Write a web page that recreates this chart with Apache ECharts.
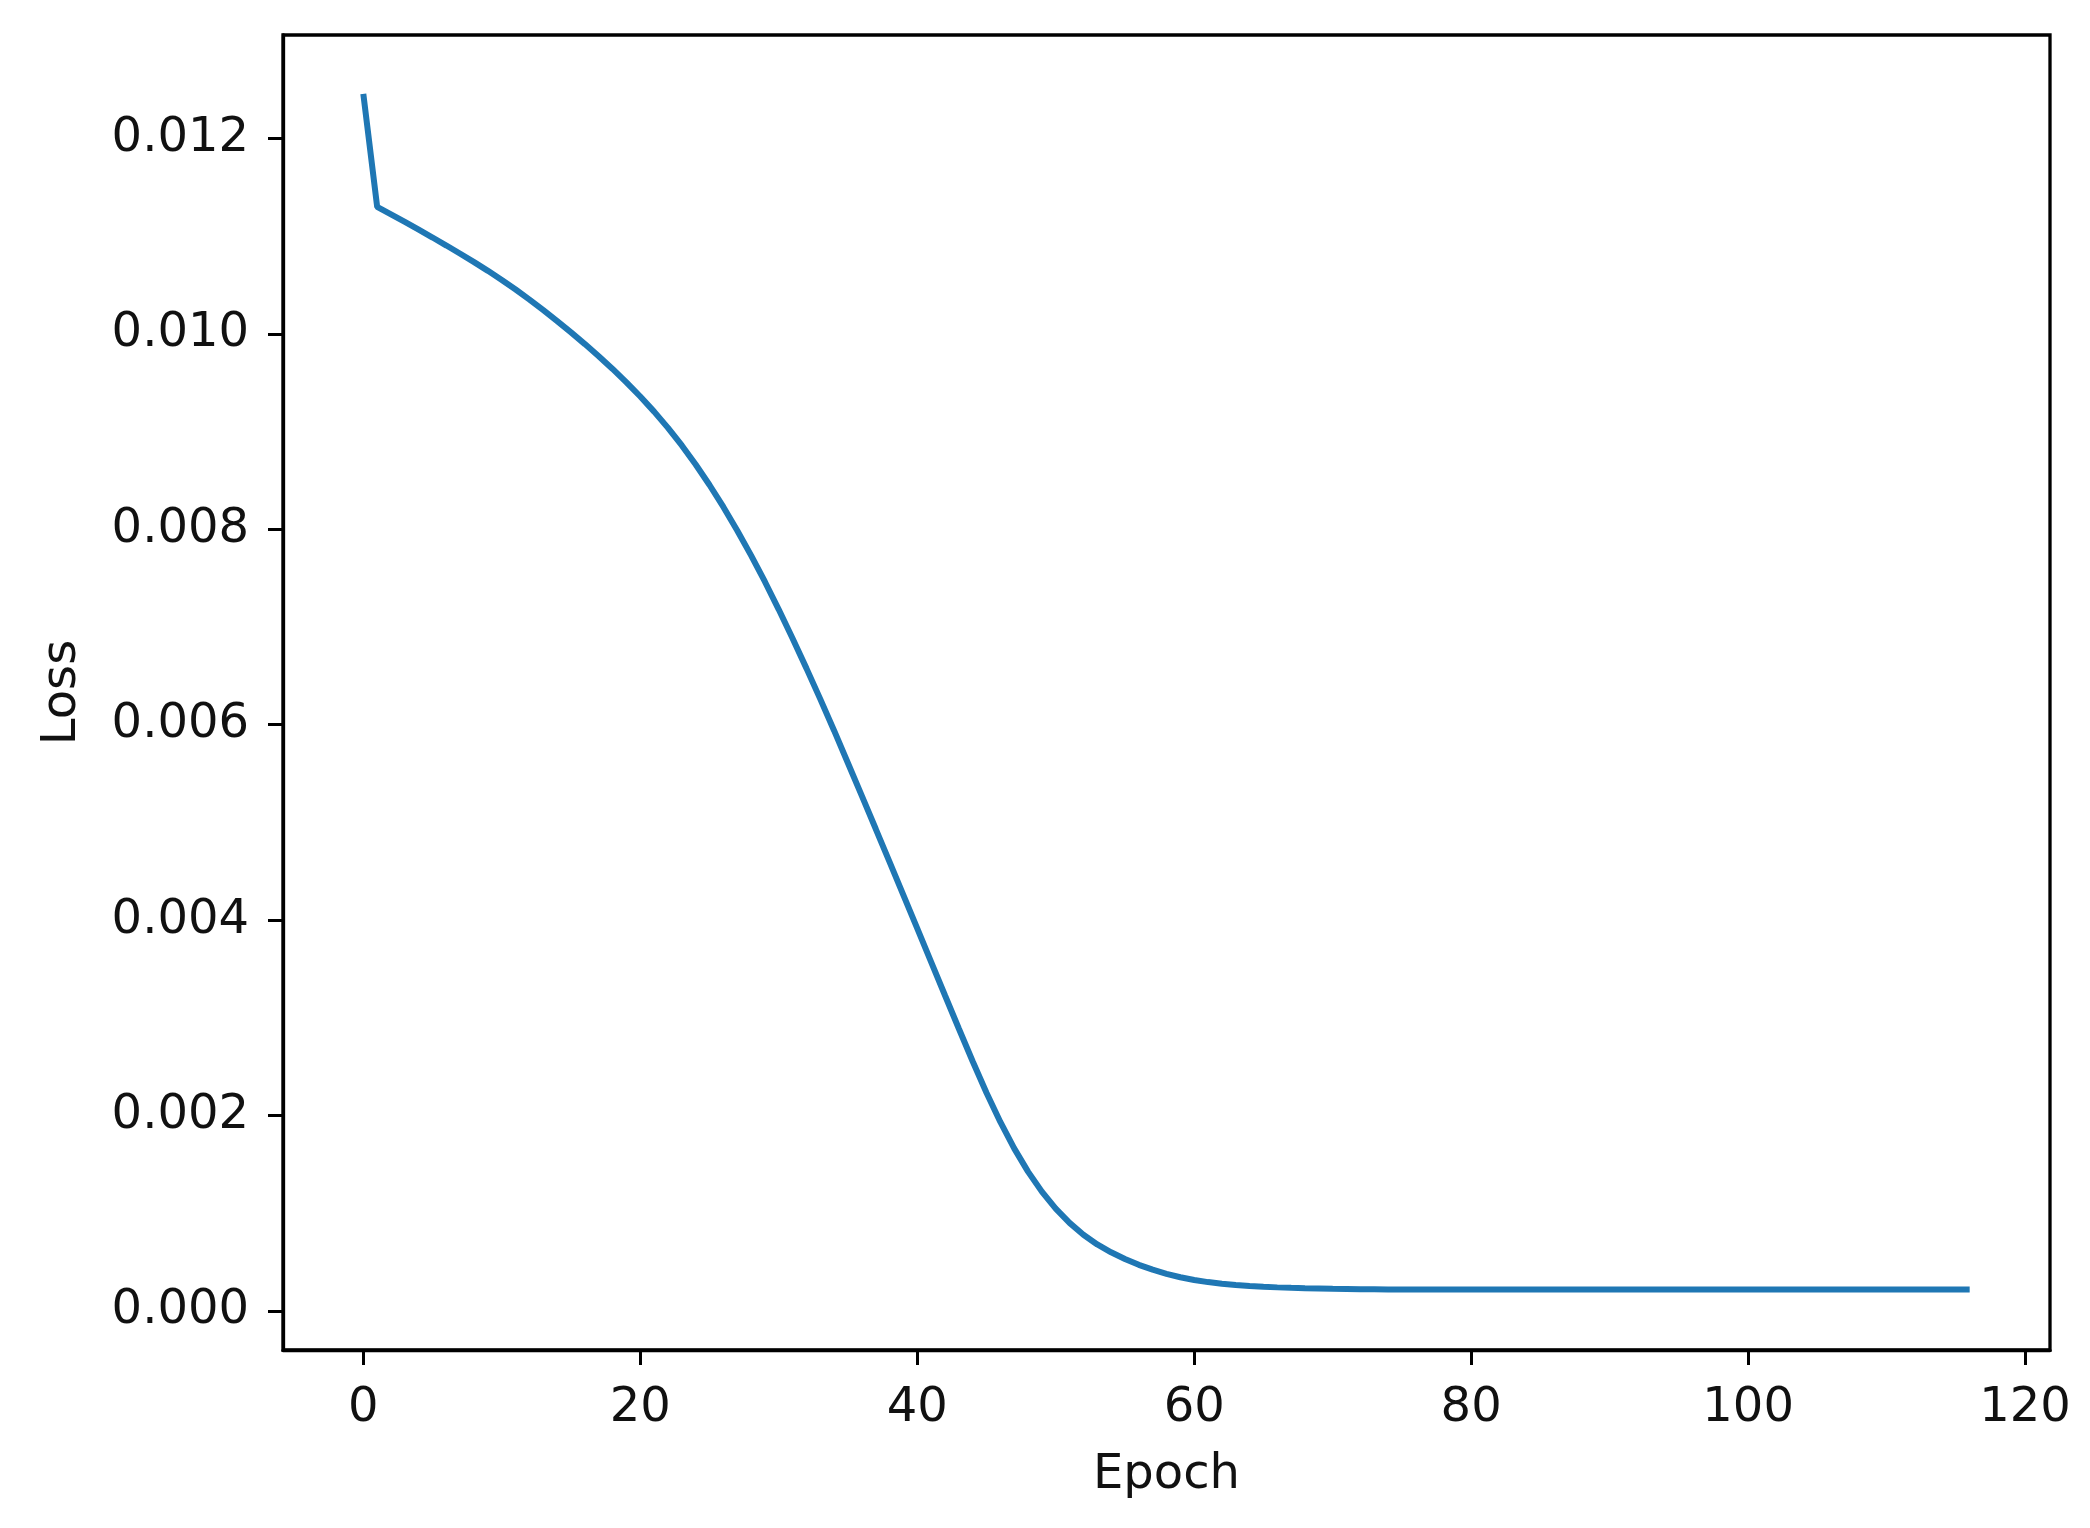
<!DOCTYPE html>
<html>
<head>
<meta charset="utf-8">
<script src="https://cdn.jsdelivr.net/npm/echarts@6/dist/echarts.min.js"></script>
<style>
html,body{margin:0;padding:0;background:#fff;}
#chart{width:2090px;height:1528px;}
</style>
</head>
<body>
<div id="chart"></div>
<script>
// Epoch numbers (0..116)
const epochs = [];
for (let i = 0; i <= 116; i++) epochs.push(i);

// Loss values, one per epoch
const lossValues = [
  0.012457, 0.011300, 0.011224, 0.011146, 0.011067, 0.010987, 0.010905, 0.010821, 0.010735, 0.010646,
  0.010553, 0.010455, 0.010352, 0.010244, 0.010132, 0.010016, 0.009896, 0.009772, 0.009642, 0.009505,
  0.009360, 0.009205, 0.009039, 0.008859, 0.008664, 0.008454, 0.008229, 0.007989, 0.007734, 0.007464,
  0.007179, 0.006883, 0.006577, 0.006262, 0.005939, 0.005606, 0.005272, 0.004935, 0.004596, 0.004256,
  0.003915, 0.003573, 0.003231, 0.002891, 0.002556, 0.002234, 0.001934, 0.001664, 0.001426, 0.001221,
  0.001047, 0.000901, 0.000780, 0.000680, 0.000600, 0.000532, 0.000472, 0.000422, 0.000380, 0.000345,
  0.000317, 0.000295, 0.000278, 0.000265, 0.000255, 0.000247, 0.000241, 0.000236, 0.000232, 0.000229,
  0.000226, 0.000224, 0.000222, 0.000221, 0.000220, 0.000220, 0.000219, 0.000219, 0.000219, 0.000218,
  0.000218, 0.000218, 0.000218, 0.000218, 0.000218, 0.000218, 0.000218, 0.000218, 0.000218, 0.000218,
  0.000218, 0.000218, 0.000218, 0.000218, 0.000218, 0.000218, 0.000218, 0.000218, 0.000218, 0.000218,
  0.000218, 0.000218, 0.000218, 0.000218, 0.000218, 0.000218, 0.000218, 0.000218, 0.000218, 0.000218,
  0.000218, 0.000218, 0.000218, 0.000218, 0.000218, 0.000218, 0.000218
];

// Tick values
const xTicks = [0, 20, 40, 60, 80, 100, 120];
const yTicks = [0, 0.002, 0.004, 0.006, 0.008, 0.010, 0.012];

const xName = 'Epoch';
const yName = 'Loss';

const seriesData = epochs.map((e, i) => [e, lossValues[i]]);

const FONT = '"DejaVu Sans", "Liberation Sans", sans-serif';
const TXT = '#111111';

const chart = echarts.init(document.getElementById('chart'), null, {renderer: 'canvas'});
chart.setOption({
  animation: false,
  backgroundColor: '#ffffff',
  grid: {
    left: 283, right: 40, top: 35, bottom: 178,
    show: true, borderColor: '#000', borderWidth: 3.3, backgroundColor: 'transparent'
  },
  xAxis: {
    type: 'value',
    min: -5.8, max: 121.8,
    name: xName,
    nameLocation: 'middle',
    nameGap: 102,
    nameTextStyle: {fontFamily: FONT, fontSize: 48, color: TXT},
    axisLine: {show: true, onZero: false, lineStyle: {color: '#000', width: 3.3}},
    axisTick: {show: true, inside: false, length: 15, lineStyle: {color: '#000', width: 3}, customValues: xTicks},
    axisLabel: {show: true, margin: 35, fontFamily: FONT, fontSize: 48, color: TXT, customValues: xTicks,
      formatter: v => String(v)},
    splitLine: {show: false}
  },
  yAxis: {
    type: 'value',
    min: -0.0004, max: 0.01306,
    name: yName,
    nameLocation: 'middle',
    nameGap: 196,
    nameTextStyle: {fontFamily: FONT, fontSize: 48, color: TXT},
    axisLine: {show: true, onZero: false, lineStyle: {color: '#000', width: 3.3}},
    axisTick: {show: true, inside: false, length: 15, lineStyle: {color: '#000', width: 3}, customValues: yTicks},
    axisLabel: {show: true, margin: 34, fontFamily: FONT, fontSize: 48, color: TXT, customValues: yTicks,
      formatter: v => v.toFixed(3)},
    splitLine: {show: false}
  },
  series: [{
    type: 'line',
    data: seriesData,
    showSymbol: false,
    symbol: 'none',
    lineStyle: {color: '#1f77b4', width: 6},
    itemStyle: {color: '#1f77b4'},
    emphasis: {disabled: true}
  }]
});
</script>
</body>
</html>
